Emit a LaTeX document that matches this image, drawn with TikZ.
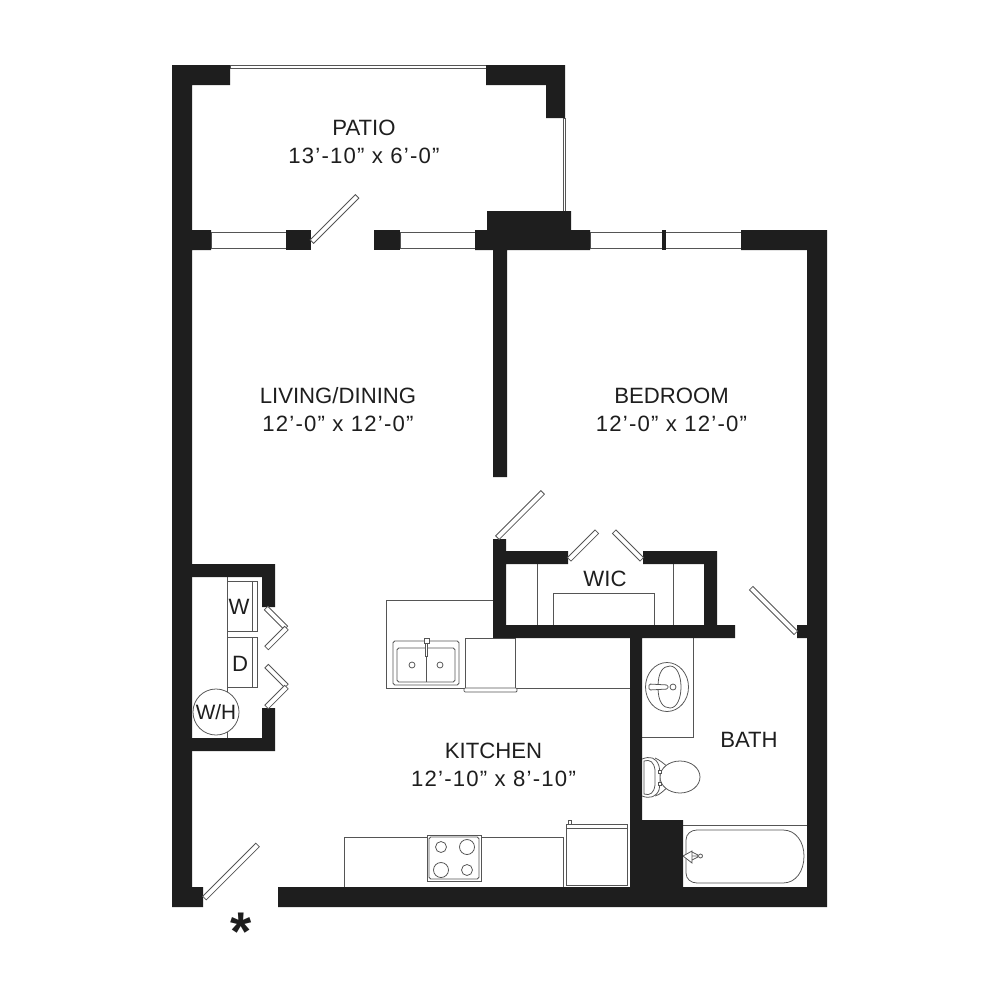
\documentclass[tikz,border=0pt]{standalone}
\usepackage{fontspec}
\setmainfont{Liberation Sans}

\newcommand{\roomsize}[1]{{\addfontfeature{LetterSpace=5.5}#1}}

\tikzset{
	wall/.style={fill=wallblack},
	glazing/.style={draw=linegray, line width=0.22pt, fill=white},
	fixture/.style={draw=linegray, line width=0.22pt},
	doorleaf/.style={draw=linegray, line width=0.22pt, fill=white, rectangle, inner sep=0pt, minimum height=0.05cm},
	roomlabel/.style={font=\fontsize{6.3}{8}\selectfont, text=wallblack, align=center, inner sep=0pt},
}
\definecolor{wallblack}{HTML}{1E1E1E}
\definecolor{linegray}{HTML}{555555}

\begin{document}
\begin{tikzpicture}[x=0.01cm, y=-0.01cm]
	\useasboundingbox (0,0) rectangle (1000,1000);

	% windows
	\draw[glazing] (230,65) rectangle (486,68);
	\draw[glazing] (563,118) rectangle (565,211);
	\draw[glazing] (211,232) rectangle (286,248);
	\draw[glazing] (400,232) rectangle (475,248);
	\draw[glazing] (590,232) rectangle (741,248);

	% kitchen fixtures
	\draw[fixture] (493,600) -- (386,600) -- (386,688) -- (630,688);
	\draw[fixture, fill=white] (465,638) rectangle (515,690);
	\draw[fixture, fill=white, rounded corners=0.3pt] (464,688) rectangle (517,692);
	\draw[fixture, fill=white, rounded corners=0.5pt] (393,641) rectangle (459,685);
	\draw[fixture, rounded corners=0.5pt] (397,648) rectangle (455,682);
	\draw[fixture] (426,648) -- (426,682);
	\draw[fixture] (412,665) circle[radius=3];
	\draw[fixture] (440,665) circle[radius=3];
	\draw[fixture, fill=white] (424,638) rectangle (429,643);
	\draw[fixture, fill=white] (425.5,643) rectangle (427.5,656);
	\draw[fixture] (563,887) -- (563,837) -- (344,837) -- (344,887);
	\draw[fixture, fill=white] (427,835) rectangle (481,881);
	\draw[fixture, rounded corners=0.5pt] (429,837) rectangle (479,879);
	\draw[fixture] (441,847) circle[radius=5.5];
	\draw[fixture] (467,847) circle[radius=7.5];
	\draw[fixture] (441,870) circle[radius=7.5];
	\draw[fixture] (467,870) circle[radius=5.5];
	\draw[fixture] (566,824) rectangle (627,885);
	\draw[fixture] (566,828) -- (627,828);
	\draw[fixture] (568.5,824) rectangle (571.5,820);

	% closet
	\draw[fixture] (227,577) -- (227,739);
	\draw[fixture] (227,581) rectangle (257,631);
	\draw[fixture] (252,581) -- (252,631);
	\draw[fixture] (227,637) rectangle (257,687);
	\draw[fixture] (252,637) -- (252,687);
	\node[circle, draw=linegray, line width=0.22pt, fill=white, minimum size=0.46cm, inner sep=0pt, font=\fontsize{5.9}{8}\selectfont, text=wallblack] (waterheater) at (216,712) {W/H};

	% wic shelves
	\draw[fixture] (537,563) -- (537,625);
	\draw[fixture] (673,563) -- (673,625);
	\draw[fixture] (553,625) -- (553,593) -- (654,593) -- (654,625);

	% bath fixtures
	\draw[fixture] (642,737) -- (693,737) -- (693,638);
	\draw[fixture] (667,687) ellipse[x radius=21.5, y radius=24.5];
	\draw[fixture] (658,687) .. controls (658,672) and (663,666) .. (670,666) .. controls (677,666) and (681,676) .. (681,687) .. controls (681,698) and (677,708) .. (670,708) .. controls (663,708) and (658,702) .. (658,687);
	\draw[fixture, fill=white, rounded corners=0.4pt] (649,684) -- (668,685) -- (668,689) -- (649,690) -- cycle;
	\draw[fixture, fill=white] (673,687) circle[radius=3];
	\draw[fixture] (655,758) .. controls (660,760) and (664,764) .. (668,767) (655,796) .. controls (660,795) and (664,790) .. (668,787);
	\draw[fixture, fill=white] (680,777) ellipse[x radius=20, y radius=16];
	\draw[fixture, fill=white] (642,759) .. controls (650,756) and (656,757) .. (659,766) -- (660,772) -- (660,784) -- (659,790) .. controls (656,797) and (650,799) .. (642,796);
	\draw[fixture, fill=white] (644,761) .. controls (650,759) and (654,762) .. (655,770) -- (655,785) .. controls (654,793) and (650,796) .. (644,794) -- cycle;
	\draw[fixture, fill=white] (658.5,770) rectangle (661,773);
	\draw[fixture, fill=white] (658.5,782) rectangle (661,785);
	\draw[fixture] (683,825) -- (807,825);
	\draw[fixture] (697,830) -- (783,830) .. controls (796,830) and (804,842) .. (804,856) .. controls (804,871) and (796,883) .. (783,883) -- (697,883) .. controls (691,883) and (686,879) .. (686,873) -- (686,840) .. controls (686,834) and (691,830) .. (697,830);
	\draw[fixture, fill=white] (683,856) -- (692,851) -- (692,863) -- cycle;
	\draw[fixture] (692,852) -- (698,855) (692,856) -- (698,856) (692,860) -- (698,857);
	\draw[fixture, fill=white] (700.5,856) circle[radius=2];

	% walls
	\fill[wall] (172,65) -- (230,65) -- (230,85) -- (192,85) -- (192,230) -- (211,230) -- (211,250) -- (192,250) -- (192,887) -- (203,887) -- (203,907) -- (172,907) -- cycle;
	\fill[wall] (486,65) -- (565,65) -- (565,118) -- (546,118) -- (546,85) -- (486,85) -- cycle;
	\fill[wall] (286,230) rectangle (311,250);
	\fill[wall] (374,230) rectangle (400,250);
	\fill[wall] (487,211) -- (571,211) -- (571,230) -- (590,230) -- (590,250) -- (507,250) -- (507,477) -- (493,477) -- (493,250) -- (475,250) -- (475,230) -- (487,230) -- cycle;
	\fill[wall] (662,230) rectangle (666,250);
	\fill[wall] (741,230) -- (827,230) -- (827,907) -- (278,907) -- (278,887) -- (630,887) -- (630,638) -- (493,638) -- (493,539) -- (506,539) -- (506,551) -- (568,551) -- (568,564) -- (506,564) -- (506,625) -- (704,625) -- (704,564) -- (643,564) -- (643,551) -- (717,551) -- (717,625) -- (735,625) -- (735,638) -- (642,638) -- (642,820) -- (683,820) -- (683,887) -- (807,887) -- (807,638) -- (797,638) -- (797,625) -- (807,625) -- (807,250) -- (741,250) -- cycle;
	\fill[wall] (192,564) -- (275,564) -- (275,607) -- (262,607) -- (262,577) -- (192,577) -- cycle;
	\fill[wall] (192,738) -- (262,738) -- (262,708) -- (275,708) -- (275,751) -- (192,751) -- cycle;

	% doors
	\node[doorleaf, minimum width=0.64cm, rotate=45] (patiodoor) at (334.5,219) {};
	\node[doorleaf, minimum width=0.64cm, rotate=45] (beddoor) at (520,515) {};
	\node[doorleaf, minimum width=0.39cm, rotate=45] (wicleft) at (583,545.5) {};
	\node[doorleaf, minimum width=0.39cm, rotate=-45] (wicright) at (628,545.5) {};
	\node[doorleaf, minimum width=0.63cm, rotate=-45] (bathdoor) at (773.5,610.5) {};
	\node[doorleaf, minimum width=0.75cm, rotate=45] (entrydoor) at (231,871.5) {};
	\node[doorleaf, minimum width=0.28cm, rotate=-45] (bifolda) at (276,618) {};
	\node[doorleaf, minimum width=0.28cm, rotate=45] (bifoldb) at (276.5,638) {};
	\node[doorleaf, minimum width=0.28cm, rotate=-45] (bifoldc) at (276.5,676) {};
	\node[doorleaf, minimum width=0.28cm, rotate=45] (bifoldd) at (276.5,697) {};

	% labels
	\node[roomlabel] (patio) at (364,142) {PATIO\\\roomsize{13’-10” x 6’-0”}};
	\node[roomlabel] (living) at (338,410) {LIVING/DINING\\\roomsize{12’-0” x 12’-0”}};
	\node[roomlabel] (bedroom) at (671.5,410) {BEDROOM\\\roomsize{12’-0” x 12’-0”}};
	\node[roomlabel] (kitchen) at (493.5,765) {KITCHEN\\\roomsize{12’-10” x 8’-10”}};
	\node[roomlabel] (wic) at (605,579) {WIC};
	\node[roomlabel] (bath) at (749,740) {BATH};
	\node[roomlabel] (washer) at (239,607) {W};
	\node[roomlabel] (dryer) at (240,664) {D};
	\node[inner sep=0pt, text=wallblack, font=\bfseries\fontsize{15.5}{16}\selectfont] (entrymark) at (241,932) {*};
\end{tikzpicture}
\end{document}
